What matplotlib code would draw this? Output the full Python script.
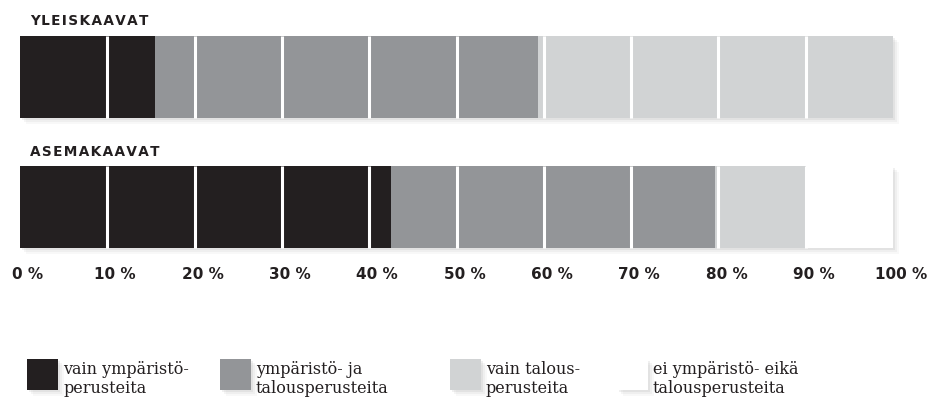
import matplotlib.pyplot as plt
import matplotlib.patheffects as pe
from matplotlib.patches import Rectangle
from matplotlib.transforms import ScaledTranslation

# shares (%) per plan type
plans = ["YLEISKAAVAT", "ASEMAKAAVAT"]
env_only = [15.5, 42.5]
both = [43.8, 37.1]
econ_only = [40.7, 10.4]
neither = [0.0, 10.0]

categories = ["vain ympäristö-\nperusteita",
              "ympäristö- ja\ntalousperusteita",
              "vain talous-\nperusteita",
              "ei ympäristö- eikä\ntalousperusteita"]
colors = ["#231f20", "#939598", "#d1d3d4", "#ffffff"]
ticks = list(range(0, 101, 10))
tick_labels = [f"{t} %" for t in ticks]

W, H = 933, 402
fig = plt.figure(figsize=(W / 100, H / 100), dpi=100)

# axes: x 0..100 -> px 20..893, bars between px 37 and 250
ax = fig.add_axes([20 / W, (H - 250) / H, 873 / W, 213 / H])
bar_h = 82 / 130
ypos = [0, 1]

shadow = [pe.SimplePatchShadow(offset=(1.5, -1.5), shadow_rgbFace="#888888", alpha=0.12),
          pe.SimplePatchShadow(offset=(3, -3), shadow_rgbFace="#888888", alpha=0.08),
          pe.SimplePatchShadow(offset=(4.5, -4.5), shadow_rgbFace="#888888", alpha=0.05),
          pe.Normal()]

series = [env_only, both, econ_only, neither]
left = [0.0, 0.0]
for vals, col in zip(series, colors):
    bars = ax.barh(ypos, vals, left=left, height=bar_h, color=col, linewidth=0, zorder=2)
    for b in bars:
        b.set_clip_on(False)
        b.set_path_effects(shadow)
    left = [l + v for l, v in zip(left, vals)]

# white separators every 10 %
for y in ypos:
    ax.vlines(ticks[1:-1], y - bar_h / 2, y + bar_h / 2, color="white", lw=2.2, zorder=3)

ax.set_xlim(0, 100)
ax.set_ylim(1 + 0.5 * 213 / 130, -0.5 * 213 / 130 + 0)
ax.set_ylim(1 + (250 - 208) / 130, -(78 - 37) / 130)
ax.set_xticks(ticks)
ax.set_xticklabels(tick_labels, fontsize=11, fontweight="bold", color="#231f20",
                   family="DejaVu Sans")
ax.tick_params(axis="x", length=0, pad=12)
ax.set_yticks([])
for lab in ax.get_xticklabels():
    lab.set_transform(lab.get_transform() + ScaledTranslation(8 / 100, 0, fig.dpi_scale_trans))
for s in ax.spines.values():
    s.set_visible(False)

# plan titles
title_y = [21, 152]
for name, ty in zip(plans, title_y):
    fig.text(30 / W, 1 - ty / H, "\u200a".join(name), fontsize=9.8, fontweight="bold",
             color="#231f20", va="center", ha="left", family="DejaVu Sans")

# legend
sw_x = [27, 220, 450, 617]
for x, col, lab in zip(sw_x, colors, categories):
    r = Rectangle((x / W, 1 - 391 / H), 31 / W, 31 / H, transform=fig.transFigure,
                  facecolor=col, linewidth=0)
    r.set_path_effects(shadow)
    fig.patches.append(r)
    fig.text((x + 36) / W, 1 - 361 / H, lab, fontsize=11.5, family="DejaVu Serif",
             color="#231f20", va="top", ha="left", linespacing=1.15)

fig.savefig("out.png", dpi=100)
